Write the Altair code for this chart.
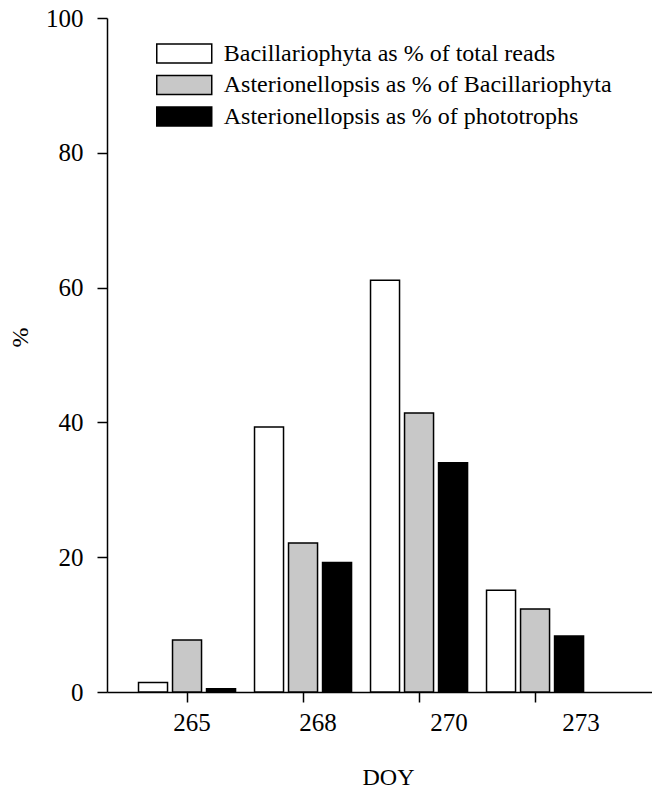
import altair as alt
import pandas as pd

days = ["265", "268", "270", "273"]
series = [
    "Bacillariophyta as % of total reads",
    "Asterionellopsis as % of Bacillariophyta",
    "Asterionellopsis as % of phototrophs",
]
bacillariophyta_total = [1.4, 39.3, 61.1, 15.1]
asterio_of_bacill = [7.7, 22.1, 41.4, 12.3]
asterio_of_photo = [0.5, 19.2, 34.0, 8.3]
fills = ["#ffffff", "#c8c8c8", "#000000"]
y_ticks = [0, 20, 40, 60, 80, 100]

rows = []
for s, vals in zip(series, [bacillariophyta_total, asterio_of_bacill, asterio_of_photo]):
    for d, v in zip(days, vals):
        rows.append({"DOY": d, "series": s, "value": v})
df = pd.DataFrame(rows)

FONT = "Liberation Serif"

x_axis = alt.Axis(
    title="DOY", titleFont=FONT, titleFontSize=24, titleFontWeight="normal",
    titleX=281, titleY=85, titleAlign="center", titleBaseline="middle",
    labelAngle=0, labelFont=FONT, labelFontSize=25, labelColor="black",
    labelBaseline="middle", labelPadding=20,
    labelOffset={"condition": [
        {"test": "datum.label == '268'", "value": 15},
        {"test": "datum.label == '270'", "value": 30},
        {"test": "datum.label == '273'", "value": 46},
    ], "value": 5},
    tickSize=10, tickWidth=1.5, tickColor="black",
    domainColor="black", domainWidth=1.5, grid=False,
)

y_axis = alt.Axis(
    title="%", titleFont=FONT, titleFontSize=24, titleFontWeight="normal",
    titleX=-87, titleY=319, titleAngle=270, titleAlign="center", titleBaseline="middle",
    values=y_ticks, labelFont=FONT, labelFontSize=25, labelColor="black",
    labelPadding=14, tickSize=10, tickWidth=1.5, tickColor="black",
    domainColor="black", domainWidth=1.5, grid=False,
)

legend = alt.Legend(
    title=None, orient="none", legendX=62.75, legendY=21,
    symbolType="M-2,-0.69L2,-0.69L2,0.69L-2,0.69Z", symbolSize=756,
    symbolStrokeColor="black", symbolStrokeWidth=1.5, symbolOpacity=1,
    labelFont=FONT, labelFontSize=24, labelColor="black", labelOffset=25,
    labelLimit=0, rowPadding=4.5, padding=0,
)

chart = alt.Chart(df).mark_bar(stroke="black", strokeWidth=1.5, opacity=1).encode(
    x=alt.X("DOY:N", sort=days,
            scale=alt.Scale(paddingInner=0, paddingOuter=0.349, align=0.272),
            axis=x_axis),
    xOffset=alt.XOffset("series:N", sort=series,
                        scale=alt.Scale(paddingInner=0.147, paddingOuter=0.279)),
    y=alt.Y("value:Q", scale=alt.Scale(domain=[0, 100], nice=False), axis=y_axis),
    fill=alt.Fill("series:N", sort=series,
                  scale=alt.Scale(domain=series, range=fills), legend=legend),
).properties(
    width=545, height=674,
    autosize=alt.AutoSizeParams(type="none"),
    padding={"left": 107, "top": 18, "right": 0, "bottom": 96},
    background="white",
).configure_view(stroke=None)

chart.save("out.html", embed_options={"renderer": "svg", "actions": False})
